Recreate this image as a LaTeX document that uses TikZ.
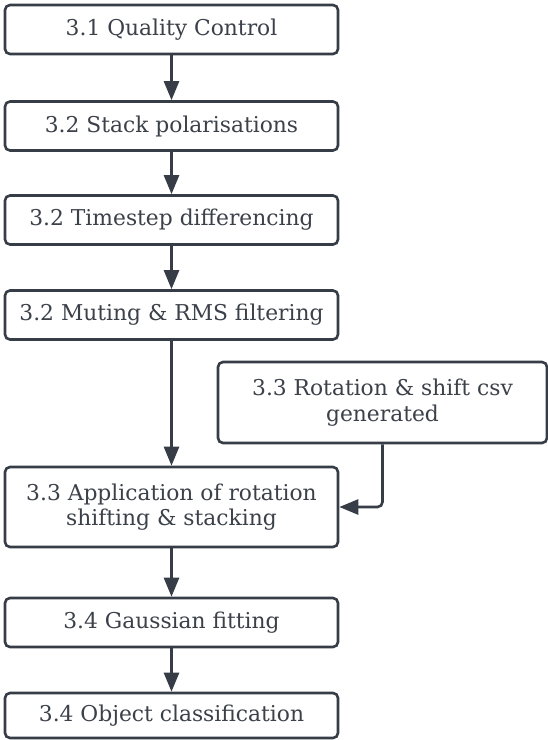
\documentclass[tikz,border=0pt]{standalone}
\usepackage{fontspec}
\setmainfont{DejaVu Serif}
\usetikzlibrary{arrows.meta}
\definecolor{ink}{HTML}{373D46}
\definecolor{txt}{HTML}{3B4049}
\tikzset{
  box/.style={draw=ink, line width=2.6pt, rounded corners=5pt, fill=white,
    text=txt, align=center, inner sep=0pt,
    font=\fontsize{21.8}{25.5}\selectfont},
  conn/.style={draw=ink, line width=2.6pt, -{Triangle[length=19pt,width=15pt]}},
}
\begin{document}
\begin{tikzpicture}[x=1pt,y=-1pt]
\useasboundingbox (0,0) rectangle (548,740);
\node[box, minimum width=333pt, minimum height=49pt] (q) at (171.5,29.5) {3.1 Quality Control};
\node[box, minimum width=333pt, minimum height=49pt] (s) at (171.5,126) {3.2 Stack polarisations};
\node[box, minimum width=333pt, minimum height=49pt] (t) at (171.5,220) {3.2 Timestep differencing};
\node[box, minimum width=333pt, minimum height=49pt] (m) at (171.5,315) {3.2 Muting \& RMS filtering};
\node[box, minimum width=329pt, minimum height=81pt] (r) at (382.5,402.5) {3.3 Rotation \& shift csv\\generated};
\node[box, minimum width=333pt, minimum height=80pt] (a) at (171.5,507) {3.3 Application of rotation\\shifting \& stacking};
\node[box, minimum width=333pt, minimum height=49pt] (g) at (171.5,622.5) {3.4 Gaussian fitting};
\node[box, minimum width=333pt, minimum height=45pt] (o) at (171.5,715.5) {3.4 Object classification};
\draw[conn] (q) -- (s);
\draw[conn] (s) -- (t);
\draw[conn] (t) -- (m);
\draw[conn] (m) -- (a);
\draw[conn, rounded corners=5pt] (r.south) |- (a.east);
\draw[conn] (a) -- (g);
\draw[conn] (g) -- (o);
\end{tikzpicture}
\end{document}
